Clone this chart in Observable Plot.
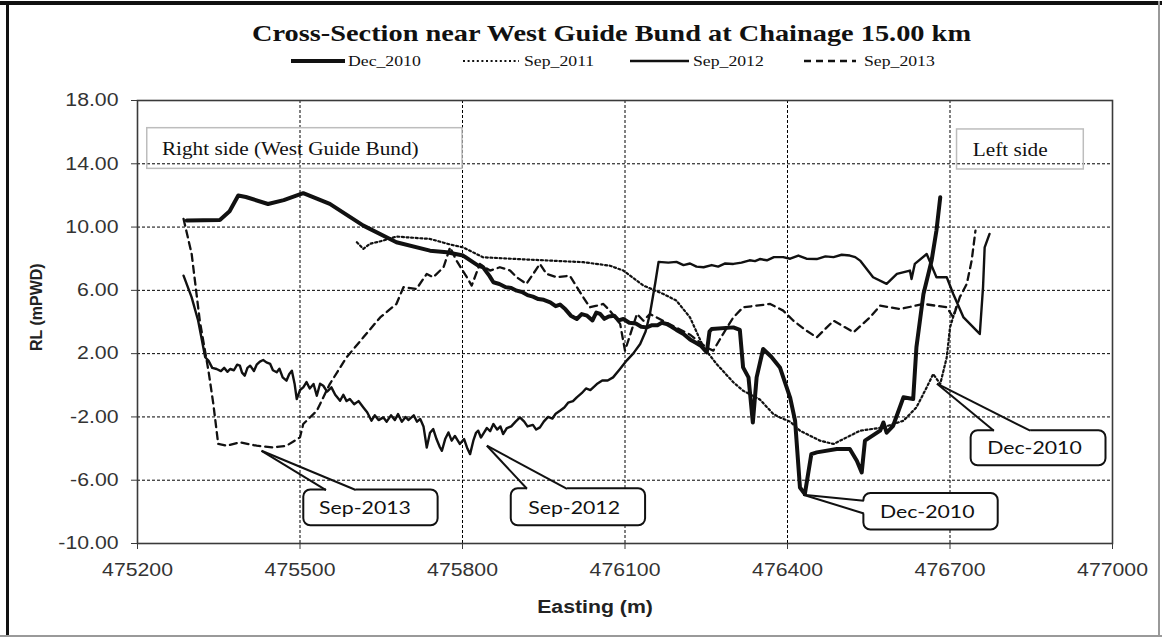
<!DOCTYPE html>
<html><head><meta charset="utf-8">
<script src="https://cdn.jsdelivr.net/npm/d3@7"></script>
<script src="https://cdn.jsdelivr.net/npm/@observablehq/plot@0.6"></script>
<style>
body{margin:0;background:#fff;}
#wrap{position:relative;width:1162px;height:639px;overflow:hidden;background:#fff;}
#head{position:absolute;left:0;top:0;}
#chart{position:absolute;left:0;top:80px;}
.edge{position:absolute;}
</style></head><body>
<div id="wrap">
<svg id="head" width="1162" height="80"></svg>
<div id="chart"></div>
<div class="edge" style="left:0;top:1px;width:1162px;height:4px;background:#111"></div>
<div class="edge" style="left:6px;top:1px;width:3px;height:636px;background:#111"></div>
<div class="edge" style="left:0;top:635px;width:1162px;height:2px;background:#999"></div>
<div class="edge" style="left:1158px;top:1px;width:2px;height:636px;background:#999"></div>
</div>
<script>
// ---------- data ----------
const chartTitle = "Cross-Section near West Guide Bund at Chainage 15.00 km";
const xTitle = "Easting (m)";
const yTitle = "RL (mPWD)";
const seriesNames = ["Dec_2010", "Sep_2011", "Sep_2012", "Sep_2013"];
const xTicks = [475200, 475500, 475800, 476100, 476400, 476700, 477000];
const yTicks = [-10, -6, -2, 2, 6, 10, 14, 18];

// [easting (m), RL (mPWD)]
const dec2010 = [[475291,10.41],[475352,10.45],[475370,11.0],[475386,11.99],[475400,11.9],[475441,11.46],[475470,11.7],[475506,12.14],[475555,11.47],[475617,10.09],[475678,9.04],[475740,8.51],[475771,8.41],[475801,8.2],[475829,7.56],[475838,7.46],[475850,6.9],[475857,6.51],[475868,6.4],[475880,6.2],[475890,6.15],[475900,5.98],[475910,5.9],[475920,5.7],[475930,5.6],[475940,5.45],[475950,5.4],[475962,5.24],[475972,5.0],[475980,5.1],[475990,4.8],[476000,4.4],[476011,4.19],[476020,4.5],[476030,4.4],[476040,4.1],[476047,4.6],[476054,4.51],[476062,4.2],[476070,4.35],[476080,4.4],[476088,4.1],[476097,4.19],[476108,3.95],[476120,3.9],[476130,3.7],[476140,3.66],[476150,3.8],[476160,3.8],[476168,3.95],[476177,3.87],[476186,3.7],[476195,3.5],[476208,3.24],[476220,2.9],[476230,2.7],[476240,2.5],[476251,2.08],[476256,3.4],[476260,3.56],[476300,3.66],[476312,3.5],[476318,1.13],[476328,0.5],[476336,-2.35],[476343,0.5],[476355,2.29],[476370,1.8],[476386,1.13],[476405,-0.8],[476414,-2.24],[476423,-6.46],[476432,-6.88],[476444,-4.35],[476454,-4.24],[476491,-4.03],[476515,-4.03],[476528,-4.77],[476537,-5.51],[476543,-3.5],[476571,-2.87],[476577,-2.35],[476583,-3.0],[476595,-2.56],[476614,-0.76],[476632,-0.87],[476638,2.4],[476651,5.77],[476666,7.88],[476675,9.78],[476682,11.88]];

const sep2011 = [[475605,9.04],[475617,8.62],[475629,8.94],[475654,9.15],[475678,9.4],[475740,9.25],[475777,8.9],[475801,8.72],[475838,8.09],[475900,7.98],[475962,7.88],[476023,7.78],[476072,7.56],[476097,7.25],[476134,6.3],[476171,5.77],[476195,5.35],[476220,4.29],[476245,2.4],[476269,1.35],[476300,0.19],[476318,-0.34],[476349,-0.9],[476374,-1.82],[476386,-2.03],[476405,-2.3],[476423,-2.87],[476460,-3.5],[476485,-3.71],[476534,-2.87],[476577,-2.66],[476614,-2.24],[476638,-1.4],[476657,-0.13],[476669,0.71],[476682,0.08],[476694,1.77],[476700,3.66],[476712,5.0]];

const sep2012 = [[475285,6.93],[475300,5.56],[475312,4.08],[475325,1.77],[475331,1.56],[475338,1.1],[475346,1.03],[475354,0.9],[475360,1.1],[475366,0.85],[475371,1.03],[475378,0.95],[475384,1.3],[475389,1.24],[475393,0.8],[475398,0.61],[475403,1.1],[475408,1.24],[475415,0.9],[475420,1.3],[475426,1.5],[475432,1.6],[475438,1.45],[475445,1.35],[475450,0.95],[475457,0.82],[475462,1.05],[475468,0.5],[475475,0.29],[475480,0.7],[475485,0.92],[475490,0.1],[475494,-0.87],[475500,-0.3],[475506,-0.13],[475512,0.2],[475518,-0.2],[475525,0.08],[475531,-0.66],[475537,0.1],[475543,-0.03],[475550,-0.4],[475558,-0.13],[475565,-0.6],[475574,-0.98],[475580,-0.6],[475586,-1.0],[475592,-0.87],[475600,-1.2],[475608,-1.0],[475617,-1.4],[475624,-1.7],[475632,-2.24],[475638,-1.9],[475645,-2.2],[475654,-2.03],[475660,-2.3],[475668,-1.9],[475675,-2.2],[475681,-1.82],[475688,-2.3],[475695,-2.0],[475700,-2.2],[475710,-1.9],[475716,-2.3],[475722,-2.13],[475728,-2.6],[475734,-3.93],[475740,-3.0],[475746,-2.77],[475752,-3.4],[475758,-3.9],[475762,-4.14],[475768,-3.4],[475774,-2.98],[475780,-3.5],[475786,-3.2],[475795,-3.71],[475803,-3.4],[475809,-4.0],[475814,-4.35],[475820,-3.5],[475825,-3.0],[475829,-2.87],[475834,-3.3],[475838,-3.08],[475845,-2.7],[475851,-2.9],[475857,-2.45],[475864,-2.8],[475870,-2.6],[475875,-3.08],[475882,-2.7],[475890,-2.6],[475898,-2.3],[475906,-2.03],[475914,-2.3],[475920,-2.6],[475930,-2.5],[475936,-2.8],[475943,-2.66],[475950,-2.3],[475958,-2.0],[475966,-2.1],[475972,-1.8],[475980,-1.61],[475988,-1.4],[475995,-1.1],[476004,-1.0],[476011,-0.76],[476020,-0.5],[476028,-0.2],[476036,-0.3],[476048,0.08],[476058,0.3],[476068,0.3],[476078,0.5],[476090,1.0],[476103,1.56],[476115,2.0],[476128,2.61],[476138,3.4],[476146,4.51],[476156,6.5],[476162,7.8],[476180,7.75],[476195,7.8],[476208,7.6],[476220,7.7],[476232,7.5],[476245,7.46],[476260,7.6],[476272,7.5],[476285,7.7],[476300,7.67],[476315,7.75],[476330,7.9],[476340,7.85],[476349,7.98],[476362,7.9],[476375,8.1],[476392,8.1],[476405,8.0],[476420,8.2],[476435,8.0],[476454,7.98],[476470,8.15],[476485,8.1],[476500,8.25],[476515,8.2],[476525,8.1],[476534,7.88],[476558,6.83],[476583,6.41],[476602,7.04],[476626,7.25],[476629,6.72],[476635,7.67],[476657,8.3],[476675,6.83],[476694,6.83],[476706,5.77],[476725,4.29],[476749,3.45],[476755,3.24],[476761,6.2],[476764,8.72],[476773,9.57]];

const sep2013 = [[475285,10.52],[475300,8.3],[475315,4.08],[475331,0.92],[475340,-1.18],[475349,-3.71],[475365,-3.82],[475389,-3.6],[475420,-3.82],[475451,-3.93],[475475,-3.82],[475500,-3.29],[475506,-2.45],[475531,-1.61],[475555,0.08],[475586,1.77],[475617,3.03],[475648,4.29],[475678,5.14],[475691,6.2],[475715,6.09],[475734,7.04],[475746,6.83],[475765,7.46],[475777,8.72],[475789,7.88],[475808,6.83],[475817,6.3],[475832,7.67],[475851,7.25],[475869,7.46],[475888,7.25],[475900,6.83],[475918,6.41],[475943,7.67],[475955,7.04],[475974,6.83],[475998,6.93],[476023,5.56],[476035,4.93],[476048,5.03],[476060,5.14],[476072,4.72],[476091,3.88],[476100,2.19],[476112,3.45],[476122,4.51],[476134,4.08],[476146,4.51],[476180,3.9],[476220,3.2],[476250,2.4],[476263,2.19],[476281,3.24],[476300,4.29],[476318,4.93],[476368,5.14],[476392,4.72],[476411,4.08],[476435,3.45],[476454,3.03],[476485,4.08],[476522,3.35],[476552,4.29],[476571,5.03],[476608,4.82],[476651,5.14],[476694,4.93],[476706,4.29],[476718,5.56],[476731,6.41],[476740,7.88],[476747,9.78]];

// annotations, anchored in data units (easting, RL)
const sideNotes = [
  {label: "Right side (West Guide Bund)", box: [475218, 475800, 16.25, 13.68], at: [475245, 14.9]},
  {label: "Left side", box: [476713, 476947, 16.17, 13.64], at: [476742, 14.84]}
];
const callouts = [
  {label: "Sep-2013", tip: [475429, -4.14], base: [[475548, -6.62], [475603, -6.62]], box: [475507, 475755, -6.62, -8.88], at: [475620, -7.74]},
  {label: "Sep-2012", tip: [475845, -3.82], base: [[475919, -6.54], [475993, -6.54]], box: [475890, 476138, -6.54, -8.88], at: [476006, -7.74]},
  {label: "Dec-2010", tip: [476429, -6.92], base: [[476541, -7.3], [476541, -8.1]], box: [476541, 476789, -6.84, -9.15], at: [476658, -8.0]},
  {label: "Dec-2010", tip: [476676, 0.10], base: [[476781, -2.87], [476848, -2.87]], box: [476739, 476988, -2.87, -5.09], at: [476856, -3.95]}
];

// ---------- styles ----------
const seriesStyle = {
  Dec_2010: {width: 4, dash: null},
  Sep_2011: {width: 2.2, dash: "2,2.6"},
  Sep_2012: {width: 2.4, dash: null},
  Sep_2013: {width: 2.3, dash: "7,5"}
};
const seriesData = {Dec_2010: dec2010, Sep_2011: sep2011, Sep_2012: sep2012, Sep_2013: sep2013};
const STRETCH = 1.18;

function stretchTexts(root) {
  root.querySelectorAll("text").forEach(t => {
    if (t.hasAttribute("textLength")) return;
    const tr = t.getAttribute("transform") || "";
    if (tr.includes("rotate")) return;
    const L = t.getComputedTextLength();
    if (L > 0) {
      t.setAttribute("textLength", (L * STRETCH).toFixed(1));
      t.setAttribute("lengthAdjust", "spacingAndGlyphs");
    }
  });
}

// ---------- heading + legend ----------
const head = d3.select("#head");
head.append("text")
  .attr("x", 252).attr("y", 41)
  .attr("font-family", "Liberation Serif").attr("font-weight", "bold").attr("font-size", 24)
  .attr("textLength", 719).attr("lengthAdjust", "spacingAndGlyphs")
  .attr("fill", "#111")
  .text(chartTitle);
const legendSlots = [[291, 345, 348], [463, 519, 524], [630, 689, 693], [804, 856, 864]];
seriesNames.forEach((name, i) => {
  const [a, b, tx] = legendSlots[i];
  const st = seriesStyle[name];
  head.append("line").attr("x1", a).attr("x2", b).attr("y1", 61).attr("y2", 61)
    .attr("stroke", "#111").attr("stroke-width", st.width)
    .attr("stroke-dasharray", st.dash);
  head.append("text").attr("x", tx).attr("y", 66)
    .attr("font-family", "Liberation Serif").attr("font-size", 15).attr("fill", "#111")
    .text(name);
});

// ---------- chart ----------
const lineMarks = seriesNames.map(name => Plot.line(seriesData[name], {
  x: d => d[0], y: d => d[1],
  stroke: "#111", strokeWidth: seriesStyle[name].width,
  strokeDasharray: seriesStyle[name].dash || undefined,
  strokeLinejoin: "round"
}));

const gridStyle = {stroke: "#000", strokeOpacity: 1, strokeWidth: 1, strokeDasharray: "3,2"};

const chart = Plot.plot({
  width: 1162,
  height: 559,
  marginTop: 20,
  marginBottom: 96,
  marginLeft: 137,
  marginRight: 50,
  style: {fontFamily: "Liberation Sans, Arial, sans-serif", fontSize: "18px", color: "#333", background: "transparent", overflow: "visible"},
  x: {domain: [475200, 477000]},
  y: {domain: [-10, 18]},
  marks: [
    Plot.gridX(xTicks.slice(1, -1), gridStyle),
    Plot.gridY(yTicks.slice(1, -1), gridStyle),
    Plot.rect(sideNotes, {x1: d => d.box[0], x2: d => d.box[1], y1: d => d.box[2], y2: d => d.box[3], fill: "none", stroke: "#bdbdbd", strokeWidth: 1.5}),
    Plot.text(sideNotes, {x: d => d.at[0], y: d => d.at[1], text: "label", textAnchor: "start", fontFamily: "Liberation Serif", fontSize: 18, fill: "#111"}),
    ...lineMarks,
    Plot.rect(callouts, {x1: d => d.box[0], x2: d => d.box[1], y1: d => d.box[2], y2: d => d.box[3], fill: "white", stroke: "#111", strokeWidth: 2, rx: 7}),
    Plot.link(callouts, {x1: d => d.base[0][0], y1: d => d.base[0][1], x2: d => d.base[1][0], y2: d => d.base[1][1], stroke: "white", strokeWidth: 4}),
    Plot.link(callouts, {x1: d => d.tip[0], y1: d => d.tip[1], x2: d => d.base[0][0], y2: d => d.base[0][1], stroke: "#111", strokeWidth: 2}),
    Plot.link(callouts, {x1: d => d.tip[0], y1: d => d.tip[1], x2: d => d.base[1][0], y2: d => d.base[1][1], stroke: "#111", strokeWidth: 2}),
    Plot.text(callouts, {x: d => d.at[0], y: d => d.at[1], text: "label", fontFamily: "Lato", fontSize: 18, fill: "#111"}),
    Plot.frame({stroke: "#3a3a3a", strokeWidth: 1.6}),
    Plot.axisX(xTicks, {tickSize: 6, tickPadding: 14, tickFormat: d => String(d), fontSize: 18, label: null, stroke: "#3a3a3a"}),
    Plot.axisY(yTicks, {tickSize: 6, tickPadding: 13, tickFormat: d => d.toFixed(2), fontSize: 18, label: null, stroke: "#3a3a3a"}),
    Plot.text([yTitle], {frameAnchor: "left", dx: -101, dy: 29, rotate: -90, fontWeight: "bold", fontSize: 16, fill: "#222", lineAnchor: "middle"}),
    Plot.text([xTitle], {frameAnchor: "bottom", dx: -30, dy: 64, fontWeight: "bold", fontSize: 18, fill: "#222", lineAnchor: "middle"})
  ]
});
document.getElementById("chart").appendChild(chart);
stretchTexts(chart);
stretchTexts(document.getElementById("head"));
</script>
</body></html>
